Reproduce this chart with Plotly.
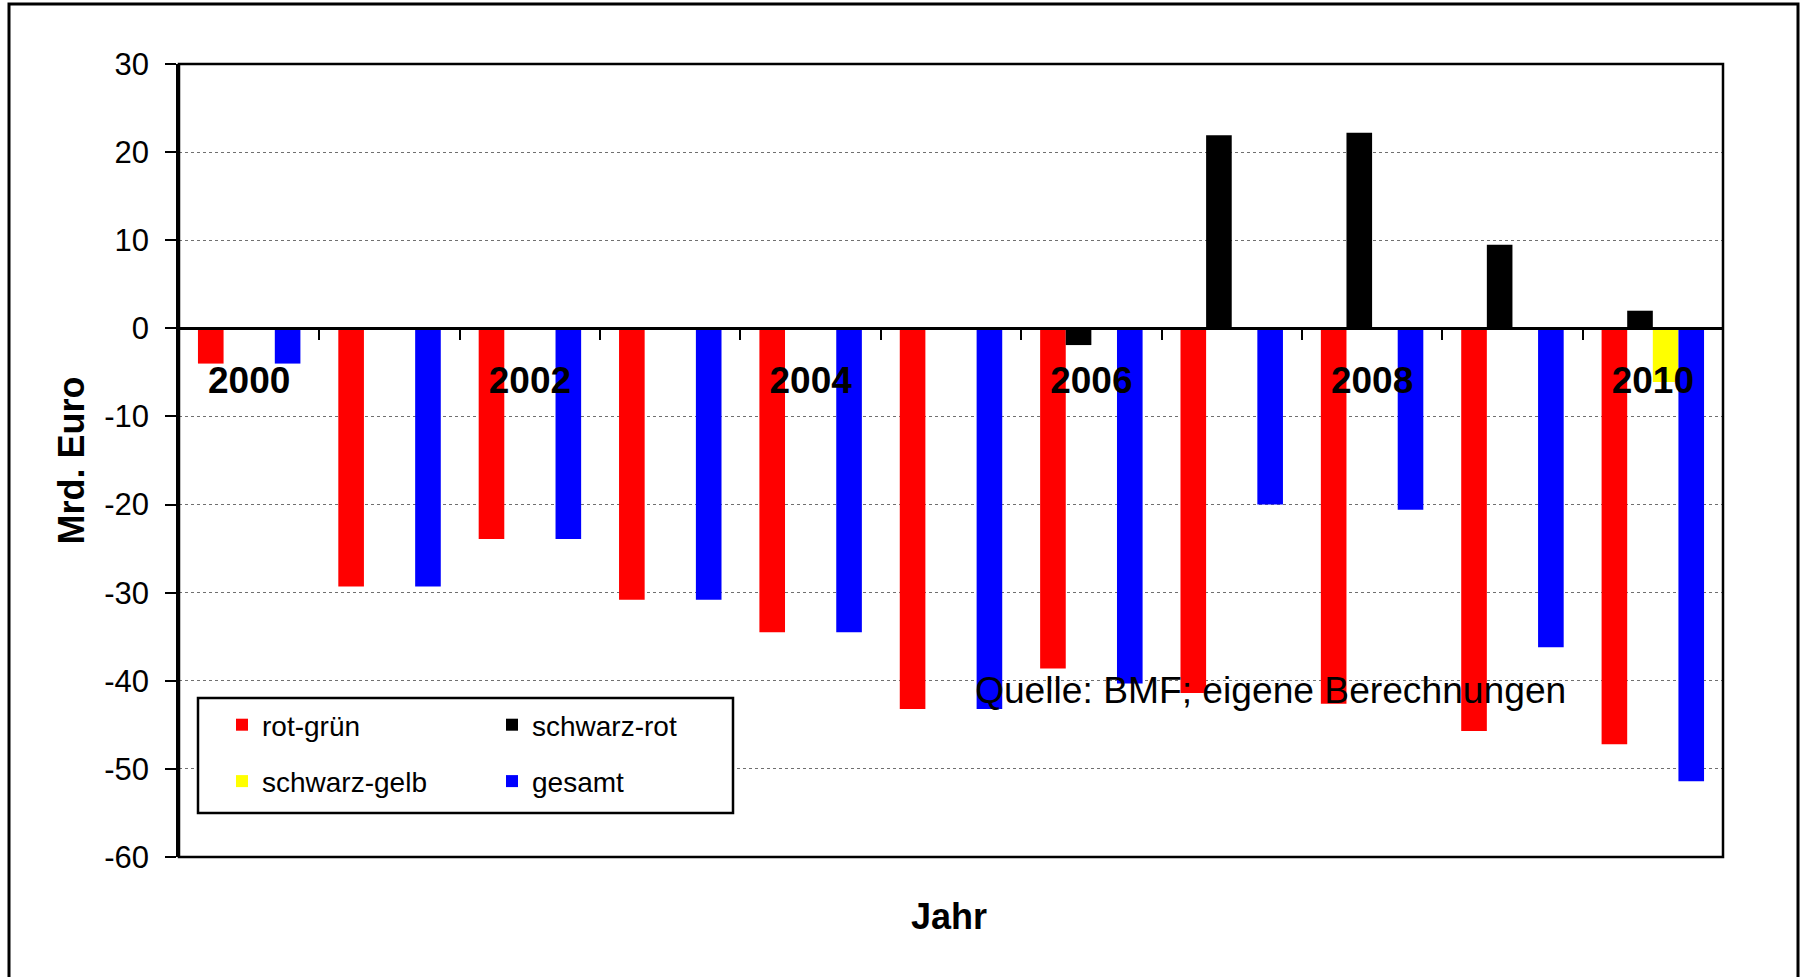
import plotly.graph_objects as go

# ---- data ----
years = [2000, 2001, 2002, 2003, 2004, 2005, 2006, 2007, 2008, 2009, 2010]
rot_gruen = [-4.0, -29.3, -23.9, -30.8, -34.5, -43.2, -38.6, -41.4, -42.6, -45.7, -47.2]
schwarz_rot = [None, None, None, None, None, None, -1.9, 21.9, 22.2, 9.5, 2.0]
schwarz_gelb = [None, None, None, None, None, None, None, None, None, None, -6.1]
gesamt = [-4.0, -29.3, -23.9, -30.8, -34.5, -43.2, -40.3, -20.0, -20.6, -36.2, -51.4]
label_years = [2000, 2002, 2004, 2006, 2008, 2010]
y_ticks = [-60, -50, -40, -30, -20, -10, 0, 10, 20, 30]
y_tick_labels = [str(v) for v in y_ticks]
y_range = [-60, 30]

FONT = "Liberation Sans, Arial, sans-serif"

# ---- layout geometry (figure pixels) ----
W, H = 1804, 977
L, R, T, B = 179, 1723, 64, 857
pw, ph = R - L, B - T


def px_x(px):
    return (px - L) / pw


def px_y(py):
    return (B - py) / ph


fig = go.Figure()
series = [
    ("rot-grün", rot_gruen, "#FF0000", "legend"),
    ("schwarz-rot", schwarz_rot, "#000000", "legend2"),
    ("schwarz-gelb", schwarz_gelb, "#FFFF00", "legend"),
    ("gesamt", gesamt, "#0000FF", "legend2"),
]
for name, vals, color, leg in series:
    fig.add_trace(go.Bar(
        x=years, y=vals, name=name,
        marker=dict(color=color, line=dict(width=0)),
        legend=leg, legendgroup=name,
    ))

boundaries = [(a + b) / 2 for a, b in zip(years[:-1], years[1:])]
zero_pos = (0 - y_range[0]) / (y_range[1] - y_range[0])

fig.update_layout(
    width=W, height=H,
    margin=dict(l=L, r=W - R, t=T, b=H - B),
    paper_bgcolor="white", plot_bgcolor="white",
    barmode="group", bargap=0.27, bargroupgap=0,
    font=dict(family=FONT, color="black"),
    xaxis=dict(
        range=[years[0] - 0.5, years[-1] + 0.5],
        anchor="free", position=zero_pos,
        showline=True, linecolor="black", linewidth=2.5,
        tickmode="array", tickvals=label_years,
        ticks="", ticklabelstandoff=19,
        tickfont=dict(size=37, family=FONT, color="black", weight="bold"),
        showgrid=False, zeroline=False,
        minor=dict(tickmode="array", tickvals=boundaries, ticks="outside",
                   ticklen=10, tickwidth=2, tickcolor="black", showgrid=False),
    ),
    yaxis=dict(
        range=y_range, tickmode="array", tickvals=y_ticks, ticktext=y_tick_labels,
        showline=True, linecolor="black", linewidth=2.5,
        ticks="outside", ticklen=11, tickwidth=2, tickcolor="black",
        ticklabelstandoff=10,
        tickfont=dict(size=31, family=FONT, color="black"),
        showgrid=True, gridcolor="#707070", griddash="dot", gridwidth=1.2,
        zeroline=False,
        title=dict(text="Mrd. Euro", standoff=9,
                   font=dict(size=36, family=FONT, color="black", weight="bold")),
    ),
    legend=dict(
        x=px_x(222), y=px_y(700), xanchor="left", yanchor="top",
        bgcolor="rgba(0,0,0,0)", borderwidth=0,
        font=dict(size=28, family=FONT, color="black"),
        traceorder="grouped", tracegroupgap=17,
    ),
    legend2=dict(
        x=px_x(492), y=px_y(700), xanchor="left", yanchor="top",
        bgcolor="rgba(0,0,0,0)", borderwidth=0,
        font=dict(size=28, family=FONT, color="black"),
        traceorder="grouped", tracegroupgap=17,
    ),
    shapes=[
        # plot area frame
        dict(type="rect", xref="paper", yref="paper", x0=0, x1=1, y0=0, y1=1,
             line=dict(color="black", width=2.5), layer="above"),
        # legend box
        dict(type="rect", xref="paper", yref="paper",
             x0=px_x(198), x1=px_x(733), y0=px_y(813), y1=px_y(698),
             line=dict(color="black", width=2.5), fillcolor="white", layer="above"),
        # outer chart border
        dict(type="rect", xref="paper", yref="paper",
             x0=px_x(9), x1=px_x(1798), y0=px_y(995), y1=px_y(4),
             line=dict(color="black", width=3), layer="above"),
    ],
    annotations=[
        dict(text="Quelle: BMF; eigene Berechnungen", xref="paper", yref="paper",
             x=px_x(973), y=px_y(690), xanchor="left", yanchor="middle",
             showarrow=False, font=dict(size=37.2, family=FONT, color="black")),
        dict(text="Jahr", xref="paper", yref="paper",
             x=px_x(949), y=px_y(917), xanchor="center", yanchor="middle",
             showarrow=False, font=dict(size=36, family=FONT, color="black", weight="bold")),
    ],
)

fig.write_html("out.html",
               config={"displayModeBar": False},
               post_script="document.body.style.margin='0';document.body.style.overflow='hidden';")
